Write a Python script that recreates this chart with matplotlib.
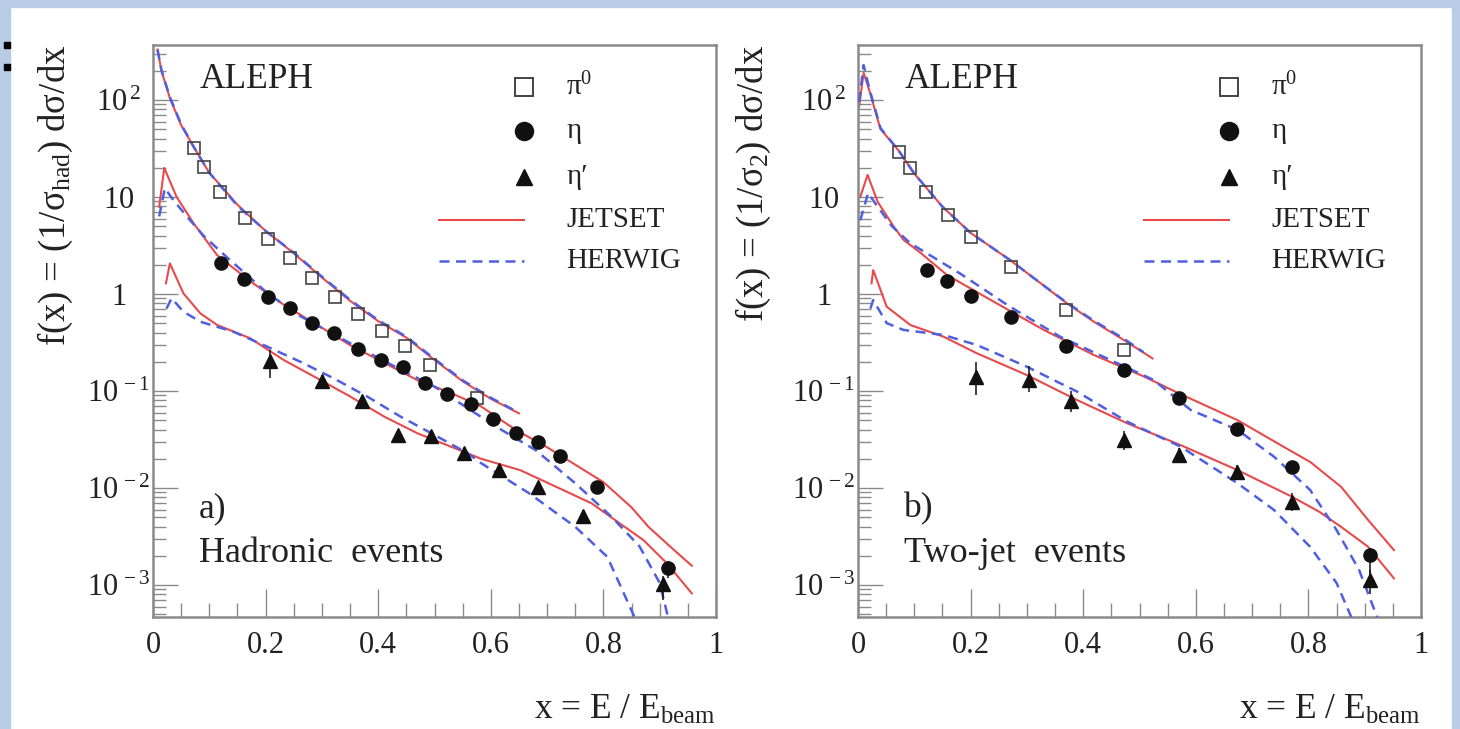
#
# ALEPH pi0 / eta / eta' fragmentation functions, hadronic and two-jet events
#
import matplotlib
matplotlib.use('Agg')
import matplotlib.pyplot as plt
import numpy as np
from matplotlib.ticker import MultipleLocator, LogLocator, NullFormatter
from matplotlib.patches import Rectangle

plt.rcParams['font.family'] = ['Liberation Serif', 'DejaVu Serif']
plt.rcParams['mathtext.fontset'] = 'custom'
plt.rcParams['mathtext.rm'] = 'Liberation Serif'
plt.rcParams['mathtext.it'] = 'Liberation Serif:italic'
plt.rcParams['mathtext.bf'] = 'Liberation Serif:bold'

RED = '#e84a4c'
BLUE = '#4f5fe0'
GREY = '#8a8a8a'
INK = '#222222'

# ---------------- panel a) hadronic events ----------------
a_pi0_x = [0.072, 0.091, 0.119, 0.163, 0.204, 0.244, 0.283, 0.324, 0.364, 0.406, 0.447, 0.492, 0.576]
a_pi0_y = [31.8, 20.5, 11.35, 6.12, 3.69, 2.33, 1.45, 0.938, 0.622, 0.416, 0.291, 0.185, 0.0841]

a_eta_x = [0.120, 0.161, 0.204, 0.243, 0.283, 0.321, 0.364, 0.405, 0.444, 0.483, 0.523, 0.564,
           0.604, 0.644, 0.683, 0.723, 0.788, 0.914]
a_eta_y = [2.07, 1.42, 0.938, 0.713, 0.499, 0.394, 0.271, 0.209, 0.175, 0.122, 0.0931, 0.0735,
           0.0511, 0.0366, 0.0296, 0.0214, 0.0102, 0.00149]
a_eta_elo = [0.02] * 17 + [0.10]   # error bars, decades below / above
a_eta_ehi = [0.02] * 17 + [0.07]

a_etap_x = [0.207, 0.300, 0.372, 0.435, 0.493, 0.553, 0.614, 0.683, 0.764, 0.905]
a_etap_y = [0.204, 0.127, 0.0794, 0.0351, 0.0341, 0.0231, 0.0155, 0.0102, 0.00514, 0.00102]
a_etap_elo = [0.18, 0.07, 0.06, 0.05, 0.05, 0.05, 0.05, 0.05, 0.07, 0.16]
a_etap_ehi = [0.11, 0.06, 0.05, 0.04, 0.04, 0.04, 0.04, 0.05, 0.06, 0.08]

a_jet_pi0_x = [0.008, 0.015, 0.03, 0.05, 0.072, 0.1, 0.15, 0.2, 0.25, 0.3, 0.35, 0.4, 0.45, 0.5, 0.55, 0.6, 0.65]
a_jet_pi0_y = [331, 199.5, 104.7, 54.95, 33.1, 17.78, 8.32, 4.47, 2.63, 1.48, 0.851, 0.525, 0.355,
               0.209, 0.126, 0.0832, 0.0589]
a_her_pi0_x = [0.008, 0.015, 0.03, 0.05, 0.072, 0.1, 0.15, 0.2, 0.25, 0.3, 0.35, 0.4, 0.45, 0.5, 0.55, 0.6, 0.645]
a_her_pi0_y = [331, 204, 107, 56.2, 33.1, 17.78, 8.13, 4.47, 2.66, 1.51, 0.871, 0.537, 0.363,
               0.214, 0.129, 0.0851, 0.0620]

a_jet_eta_x = [0.011, 0.020, 0.042, 0.072, 0.114, 0.173, 0.232, 0.292, 0.351, 0.411, 0.47, 0.529,
               0.583, 0.644, 0.70, 0.75, 0.80, 0.85, 0.88, 0.92, 0.957]
a_jet_eta_y = [7.94, 19.95, 10.0, 5.37, 2.51, 1.35, 0.776, 0.479, 0.295, 0.195, 0.129, 0.0955,
               0.0692, 0.0398, 0.0263, 0.0174, 0.0115, 0.00631, 0.00398, 0.00245, 0.00158]
a_her_eta_x = [0.011, 0.021, 0.036, 0.06, 0.09, 0.131, 0.203, 0.262, 0.351, 0.44, 0.50, 0.565,
               0.61, 0.68, 0.75, 0.815, 0.864, 0.90, 0.92]
a_her_eta_y = [6.31, 12.3, 9.33, 6.31, 3.98, 2.40, 1.023, 0.589, 0.309, 0.166, 0.111, 0.0631,
               0.0427, 0.0245, 0.0112, 0.00501, 0.00251, 0.00105, 0.00035]

a_jet_etap_x = [0.023, 0.030, 0.054, 0.084, 0.114, 0.173, 0.232, 0.292, 0.351, 0.411, 0.47, 0.529,
                0.583, 0.652, 0.716, 0.779, 0.829, 0.871, 0.913, 0.957]
a_jet_etap_y = [1.288, 2.07, 1.016, 0.632, 0.479, 0.349, 0.209, 0.135, 0.0873, 0.0543, 0.0366, 0.0267,
                0.0200, 0.0153, 0.0103, 0.00695, 0.00432, 0.00291, 0.00167, 0.00082]
a_her_etap_x = [0.024, 0.033, 0.054, 0.084, 0.143, 0.203, 0.262, 0.321, 0.381, 0.44, 0.50, 0.559,
                0.583, 0.667, 0.75, 0.807, 0.865]
a_her_etap_y = [0.708, 0.904, 0.658, 0.518, 0.408, 0.286, 0.200, 0.135, 0.0873, 0.0543, 0.0352, 0.0228,
                0.0180, 0.00891, 0.00398, 0.00195, 0.00035]

# ---------------- panel b) two-jet events ----------------
b_pi0_x = [0.072, 0.093, 0.121, 0.159, 0.200, 0.271, 0.370, 0.472]
b_pi0_y = [29.3, 19.8, 11.35, 6.52, 3.90, 1.91, 0.679, 0.265]

b_eta_x = [0.122, 0.158, 0.201, 0.272, 0.369, 0.472, 0.570, 0.674, 0.771, 0.910]
b_eta_y = [1.75, 1.37, 0.953, 0.583, 0.288, 0.166, 0.0841, 0.0403, 0.0166, 0.00204]
b_eta_elo = [0.02] * 9 + [0.20]
b_eta_ehi = [0.02] * 9 + [0.07]

b_etap_x = [0.210, 0.303, 0.378, 0.472, 0.570, 0.674, 0.771, 0.910]
b_etap_y = [0.141, 0.130, 0.0794, 0.0313, 0.0219, 0.0147, 0.00723, 0.00113]
b_etap_elo = [0.19, 0.12, 0.12, 0.10, 0.08, 0.08, 0.10, 0.15]
b_etap_ehi = [0.15, 0.14, 0.10, 0.09, 0.07, 0.07, 0.09, 0.10]

b_jet_pi0_x = [0.002, 0.01, 0.02, 0.04, 0.072, 0.1, 0.15, 0.2, 0.27, 0.32, 0.371, 0.42, 0.472, 0.523]
b_jet_pi0_y = [85.1, 190.5, 125.9, 50.1, 30.2, 17.4, 7.94, 4.27, 2.24, 1.35, 0.802, 0.513, 0.336, 0.217]
b_her_pi0_x = [0.002, 0.01, 0.02, 0.04, 0.072, 0.1, 0.15, 0.2, 0.27, 0.32, 0.371, 0.42, 0.472, 0.507]
b_her_pi0_y = [95.5, 229.1, 131.8, 51.3, 30.2, 17.4, 7.94, 4.27, 2.24, 1.35, 0.813, 0.525, 0.347, 0.251]

b_jet_eta_x = [0.004, 0.017, 0.035, 0.064, 0.081, 0.112, 0.158, 0.241, 0.330, 0.419, 0.508, 0.570,
               0.674, 0.771, 0.803, 0.858, 0.906, 0.952]
b_jet_eta_y = [10.0, 16.9, 8.91, 4.90, 3.61, 2.63, 1.57, 0.834, 0.426, 0.235, 0.141, 0.0946,
               0.0501, 0.0237, 0.0186, 0.0103, 0.00468, 0.00229]
b_her_eta_x = [0.004, 0.018, 0.035, 0.06, 0.093, 0.181, 0.270, 0.359, 0.448, 0.525, 0.591, 0.674,
               0.739, 0.803, 0.850, 0.890, 0.93]
b_her_eta_y = [5.75, 10.96, 7.94, 5.01, 3.33, 1.63, 0.739, 0.363, 0.209, 0.130, 0.0637, 0.0398,
               0.0210, 0.00955, 0.00369, 0.00143, 0.000355]

b_jet_etap_x = [0.024, 0.027, 0.051, 0.093, 0.152, 0.211, 0.300, 0.389, 0.478, 0.573, 0.674, 0.771,
                0.819, 0.858, 0.906, 0.952]
b_jet_etap_y = [1.288, 1.766, 0.740, 0.479, 0.363, 0.245, 0.146, 0.0807, 0.0465, 0.0277, 0.0153, 0.00813,
                0.00570, 0.00398, 0.00248, 0.00117]
b_her_etap_x = [0.022, 0.027, 0.051, 0.081, 0.152, 0.211, 0.300, 0.389, 0.478, 0.573, 0.674, 0.739,
                0.803, 0.850, 0.885]
b_her_etap_y = [0.708, 0.867, 0.501, 0.426, 0.378, 0.298, 0.178, 0.0986, 0.0483, 0.0267, 0.0112, 0.00593,
                0.00248, 0.00105, 0.000355]

y_ticks = [1e-3, 1e-2, 1e-1, 1, 10, 100]
y_ticklabels = [r'$10^{\,-3}$', r'$10^{\,-2}$', r'$10^{\,-1}$', r'$1$', r'$10$', r'$10^{\,2}$']
x_ticks = [0, 0.2, 0.4, 0.6, 0.8, 1]
x_ticklabels = ['0', '0.2', '0.4', '0.6', '0.8', '1']


def errs(y, lo, hi):
    y = np.asarray(y)
    return [y - y * 10 ** (-np.asarray(lo)), y * 10 ** np.asarray(hi) - y]


def panel(ax, ylabel, ylab_x, tag, title, curves, pi0, eta, etap):
    for (jx, jy), (hx, hy) in curves:
        ax.plot(jx, jy, color=RED, lw=1.5, zorder=2)
        ax.plot(hx, hy, color=BLUE, lw=1.8, dashes=(4, 2.6), zorder=3)

    ax.plot(pi0[0], pi0[1], ls='none', marker='s', ms=9, mfc='none', mec='#444444', mew=1.2, zorder=5)
    ax.errorbar(eta[0], eta[1], yerr=errs(eta[1], eta[2], eta[3]), fmt='o', ms=9.5, color='#111111',
                elinewidth=1.1, capsize=0, zorder=5)
    ax.errorbar(etap[0], etap[1], yerr=errs(etap[1], etap[2], etap[3]), fmt='^', ms=9.5, color='#111111',
                elinewidth=1.1, capsize=0, zorder=5)

    ax.set_yscale('log')
    ax.set_xlim(0, 1)
    ax.set_ylim(4.68e-4, 369)
    ax.set_xticks(x_ticks, x_ticklabels)
    ax.xaxis.set_minor_locator(MultipleLocator(0.05))
    ax.set_yticks(y_ticks, y_ticklabels, ha='center')
    ax.yaxis.set_minor_locator(LogLocator(base=10, subs=np.arange(2, 10), numticks=20))
    ax.yaxis.set_minor_formatter(NullFormatter())
    ax.tick_params(axis='both', which='both', direction='in', color=GREY, width=1.0,
                   labelsize=22, labelcolor=INK, top=False, right=False)
    ax.tick_params(axis='x', which='major', length=20, pad=10)
    ax.tick_params(axis='x', which='minor', length=10)
    ax.tick_params(axis='y', which='major', length=18, pad=25)
    ax.tick_params(axis='y', which='minor', length=9)
    for s in ax.spines.values():
        s.set_color(GREY)
        s.set_linewidth(1.8)

    ax.text(ylab_x, 1.0, ylabel, transform=ax.transAxes, rotation=90, ha='center', va='top',
            fontsize=26.5, color=INK)
    ax.text(1.0, -0.178, r'x = E / E$_{\mathrm{beam}}$', transform=ax.transAxes, ha='right',
            va='baseline', fontsize=25.5, color=INK)
    ax.text(0.082, 0.925, 'ALEPH', transform=ax.transAxes, fontsize=25.5, color=INK, va='baseline')
    ax.text(0.082, 0.175, tag, transform=ax.transAxes, fontsize=25.5, color=INK, va='baseline')
    ax.text(0.082, 0.096, title, transform=ax.transAxes, fontsize=26, color=INK, va='baseline')

    # legend, drawn by hand in ROOT style
    ky = [0.927, 0.850, 0.769, 0.694, 0.622]
    kx_mark, kx_line, kx_text = 0.659, 0.508, 0.734
    tr = ax.transAxes
    ax.plot([kx_mark], [ky[0]], transform=tr, marker='s', ms=13, mfc='none', mec='#444444', mew=1.4,
            clip_on=False)
    ax.plot([kx_mark], [ky[1]], transform=tr, marker='o', ms=13, color='#111111', clip_on=False)
    ax.plot([kx_mark], [ky[2]], transform=tr, marker='^', ms=12, color='#111111', clip_on=False)
    ax.plot([kx_line, kx_mark], [ky[3], ky[3]], transform=tr, color=RED, lw=1.5)
    ax.plot([kx_line, kx_mark], [ky[4], ky[4]], transform=tr, color=BLUE, lw=1.8, dashes=(4, 2.6))
    for yy, s in zip(ky, [r'π$^{0}$', 'η', 'η′', 'JETSET', 'HERWIG']):
        ax.text(kx_text, yy, s, transform=tr, fontsize=21, color=INK, va='center')


fig = plt.figure(figsize=(14.6, 7.29), dpi=100, facecolor='white')
ax_a = fig.add_axes([153 / 1460, 112 / 729, 563 / 1460, 572 / 729])
ax_b = fig.add_axes([858 / 1460, 112 / 729, 563 / 1460, 572 / 729])

panel(ax_a, r'f(x) = (1/σ$_{\mathrm{had}}$) dσ/dx', -0.174, 'a)', 'Hadronic  events',
      [((a_jet_pi0_x, a_jet_pi0_y), (a_her_pi0_x, a_her_pi0_y)),
       ((a_jet_eta_x, a_jet_eta_y), (a_her_eta_x, a_her_eta_y)),
       ((a_jet_etap_x, a_jet_etap_y), (a_her_etap_x, a_her_etap_y))],
      (a_pi0_x, a_pi0_y), (a_eta_x, a_eta_y, a_eta_elo, a_eta_ehi),
      (a_etap_x, a_etap_y, a_etap_elo, a_etap_ehi))

panel(ax_b, r'f(x) = (1/σ$_{2}$) dσ/dx', -0.1865, 'b)', 'Two-jet  events',
      [((b_jet_pi0_x, b_jet_pi0_y), (b_her_pi0_x, b_her_pi0_y)),
       ((b_jet_eta_x, b_jet_eta_y), (b_her_eta_x, b_her_eta_y)),
       ((b_jet_etap_x, b_jet_etap_y), (b_her_etap_x, b_her_etap_y))],
      (b_pi0_x, b_pi0_y), (b_eta_x, b_eta_y, b_eta_elo, b_eta_ehi),
      (b_etap_x, b_etap_y, b_etap_elo, b_etap_ehi))

# slide background showing around the picture
SLIDE = '#b8cce6'
for r in [(0, 1 - 7 / 729, 1, 7 / 729), (0, 0, 10 / 1460, 1), (1452 / 1460, 0, 8 / 1460, 1)]:
    fig.patches.append(Rectangle(r[:2], r[2], r[3], transform=fig.transFigure, color=SLIDE, zorder=0))
for yy in [681 / 729, 659 / 729]:
    fig.patches.append(Rectangle((4 / 1460, yy), 6 / 1460, 6 / 729, transform=fig.transFigure,
                                 color='black', zorder=1))

fig.savefig('out.png', dpi=100, facecolor='white')
